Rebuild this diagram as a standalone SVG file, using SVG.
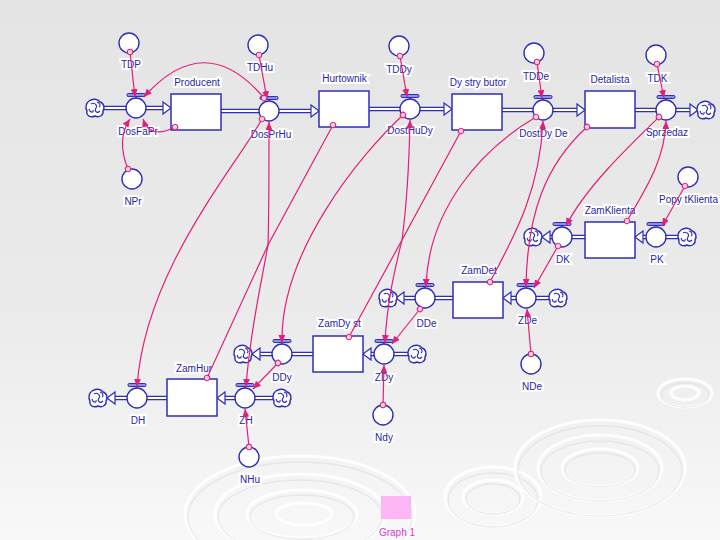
<svg xmlns="http://www.w3.org/2000/svg" xmlns:xlink="http://www.w3.org/1999/xlink" width="720" height="540" viewBox="0 0 720 540">
<style>
.pipe{fill:none;stroke:#2e2eb8;stroke-width:4.6}
.pipein{fill:none;stroke:#ffffff;stroke-width:1.8}
.parr{fill:#ffffff;stroke:#2e2eb8;stroke-width:1.2;stroke-linejoin:miter}
.stock{fill:#ffffff;stroke:#2e2eb8;stroke-width:1.5}
.aux{fill:#ffffff;stroke:#2e2eb8;stroke-width:1.4}
.lbl{font-family:"Liberation Sans",Arial,sans-serif;font-size:10px;fill:#2626a8;text-anchor:middle;stroke:#ffffff;stroke-width:4;stroke-linejoin:miter;paint-order:stroke}
.link{fill:none;stroke:#e0207a;stroke-width:1.2;marker-start:url(#dot);marker-end:url(#arr)}
.rw{fill:none;stroke:#ffffff;stroke-width:3;opacity:0.85}
.rg{fill:none;stroke:#d8d8d8;stroke-width:1.3;opacity:0.45}
</style>
<defs>
<linearGradient id="bg" x1="0" y1="0" x2="0" y2="1">
<stop offset="0" stop-color="#e4e4e4"/>
<stop offset="0.6" stop-color="#ebebeb"/>
<stop offset="1" stop-color="#f8f8f8"/>
</linearGradient>
<marker id="arr" markerUnits="userSpaceOnUse" markerWidth="9" markerHeight="7" refX="8" refY="3.5" orient="auto"><path d="M0,0 L8,3.5 L0,7 Z" fill="#e0207a"/></marker>
<marker id="dot" markerUnits="userSpaceOnUse" markerWidth="8" markerHeight="8" refX="4" refY="4" orient="auto"><circle cx="4" cy="4" r="2.7" fill="#f4d2e2" stroke="#e0207a" stroke-width="1"/></marker>
<g id="cloud">
<path d="M-6,-7 C-2,-10 3,-9 5,-6 C9,-5 10,0 8,3 C9,7 4,10 0,8 C-4,10 -9,8 -8,3 C-10,0 -9,-5 -6,-7 Z" fill="#ffffff" stroke="#2e2eb8" stroke-width="1.4"/>
<path d="M-4,-4 C-1,-6 3,-3 1,0 C-1,3 2,6 5,3 M-6,1 C-5,5 -1,5 -2,2 M2,-6 C5,-5 6,-2 4,-1" fill="none" stroke="#2e2eb8" stroke-width="1.1"/>
</g>
<g id="valve">
<rect x="-9" y="-14.5" width="18" height="3" rx="1.2" fill="#8f8fe0" stroke="#2e2eb8" stroke-width="1"/>
<line x1="0" y1="-11.5" x2="0" y2="-10" stroke="#2e2eb8" stroke-width="1.4"/>
<circle cx="0" cy="0" r="10" fill="#ffffff" stroke="#2e2eb8" stroke-width="1.4"/>
</g>
</defs>

<rect x="0" y="0" width="720" height="540" fill="url(#bg)"/>
<g id="ripples">
<ellipse class="rw" cx="300" cy="514" rx="115" ry="58"/><ellipse class="rg" cx="300" cy="517" rx="112" ry="55"/>
<ellipse class="rw" cx="300" cy="514" rx="85" ry="40"/><ellipse class="rg" cx="300" cy="517" rx="82" ry="37"/>
<ellipse class="rw" cx="302" cy="514" rx="55" ry="24"/><ellipse class="rg" cx="302" cy="517" rx="52" ry="22"/>
<ellipse class="rw" cx="304" cy="514" rx="28" ry="11"/>
<ellipse class="rw" cx="493" cy="497" rx="48" ry="30"/><ellipse class="rg" cx="493" cy="500" rx="45" ry="27"/>
<ellipse class="rw" cx="493" cy="497" rx="30" ry="17"/><ellipse class="rg" cx="493" cy="499" rx="27" ry="15"/>
<ellipse class="rw" cx="600" cy="468" rx="85" ry="48"/><ellipse class="rg" cx="600" cy="471" rx="82" ry="45"/>
<ellipse class="rw" cx="600" cy="468" rx="62" ry="33"/><ellipse class="rg" cx="600" cy="471" rx="59" ry="30"/>
<ellipse class="rw" cx="600" cy="468" rx="38" ry="19"/><ellipse class="rg" cx="600" cy="470" rx="35" ry="17"/>
<ellipse class="rw" cx="685" cy="393" rx="27" ry="14"/><ellipse class="rg" cx="685" cy="395" rx="24" ry="12"/>
<ellipse class="rw" cx="685" cy="393" rx="14" ry="7"/>
</g>

<!-- top chain flows -->
<g id="DosFaPr">
<path class="pipe" d="M103,108 H164"/><path class="pipein" d="M103,108 H164"/>
<path class="parr" d="M163,102 L171,108 L163,114 Z"/>
<use xlink:href="#cloud" href="#cloud" x="95" y="108"/>
<use xlink:href="#valve" href="#valve" x="136" y="108"/>
<text class="lbl" x="138" y="134.5">DosFaPr</text>
</g>
<g id="DosPrHu">
<path class="pipe" d="M221,111 H312"/><path class="pipein" d="M221,111 H312"/>
<path class="parr" d="M311,105 L319,111 L311,117 Z"/>
<use xlink:href="#valve" href="#valve" x="269" y="111"/>
<text class="lbl" x="271" y="137.5">DosPrHu</text>
</g>
<g id="DostHuDy">
<path class="pipe" d="M369,109 H445"/><path class="pipein" d="M369,109 H445"/>
<path class="parr" d="M444,103 L452,109 L444,115 Z"/>
<use xlink:href="#valve" href="#valve" x="410" y="109"/>
<text class="lbl" x="410" y="133.5">DostHuDy</text>
</g>
<g id="DostDyDe">
<path class="pipe" d="M502,110 H578"/><path class="pipein" d="M502,110 H578"/>
<path class="parr" d="M577,104 L585,110 L577,116 Z"/>
<use xlink:href="#valve" href="#valve" x="543" y="110"/>
<text class="lbl" x="543.5" y="136.5">DostDy De</text>
</g>
<g id="Sprzedaz">
<path class="pipe" d="M635,110 H691"/><path class="pipein" d="M635,110 H691"/>
<path class="parr" d="M690,104 L698,110 L690,116 Z"/>
<use xlink:href="#cloud" href="#cloud" x="706" y="110"/>
<use xlink:href="#valve" href="#valve" x="666" y="110"/>
<text class="lbl" x="667" y="135.5">Sprzedaz</text>
</g>

<!-- order chain flows -->
<g id="PK">
<path class="pipe" d="M679,237 H642"/><path class="pipein" d="M679,237 H642"/>
<path class="parr" d="M643,231 L635,237 L643,243 Z"/>
<use xlink:href="#cloud" href="#cloud" x="687" y="237"/>
<use xlink:href="#valve" href="#valve" x="656" y="237"/>
<text class="lbl" x="657" y="262.5">PK</text>
</g>
<g id="DK">
<path class="pipe" d="M585,237 H549"/><path class="pipein" d="M585,237 H549"/>
<path class="parr" d="M550,231 L542,237 L550,243 Z"/>
<use xlink:href="#cloud" href="#cloud" x="533" y="237"/>
<use xlink:href="#valve" href="#valve" x="562" y="237"/>
<text class="lbl" x="563" y="262.5">DK</text>
</g>
<g id="ZDe">
<path class="pipe" d="M550,298 H510"/><path class="pipein" d="M550,298 H510"/>
<path class="parr" d="M511,292 L503,298 L511,304 Z"/>
<use xlink:href="#cloud" href="#cloud" x="558" y="298"/>
<use xlink:href="#valve" href="#valve" x="526" y="298"/>
<text class="lbl" x="527.5" y="323.5">ZDe</text>
</g>
<g id="DDe">
<path class="pipe" d="M453,298 H403"/><path class="pipein" d="M453,298 H403"/>
<path class="parr" d="M404,292 L396,298 L404,304 Z"/>
<use xlink:href="#cloud" href="#cloud" x="388" y="298"/>
<use xlink:href="#valve" href="#valve" x="425" y="298"/>
<text class="lbl" x="426.5" y="326.5">DDe</text>
</g>
<g id="ZDy">
<path class="pipe" d="M409,354 H370"/><path class="pipein" d="M409,354 H370"/>
<path class="parr" d="M371,348 L363,354 L371,360 Z"/>
<use xlink:href="#cloud" href="#cloud" x="417" y="354"/>
<use xlink:href="#valve" href="#valve" x="384" y="354"/>
<text class="lbl" x="384" y="380.5">ZDy</text>
</g>
<g id="DDy">
<path class="pipe" d="M313,354 H259"/><path class="pipein" d="M313,354 H259"/>
<path class="parr" d="M260,348 L252,354 L260,360 Z"/>
<use xlink:href="#cloud" href="#cloud" x="243" y="354"/>
<use xlink:href="#valve" href="#valve" x="282" y="354"/>
<text class="lbl" x="282" y="380.5">DDy</text>
</g>
<g id="ZH">
<path class="pipe" d="M274,398 H224"/><path class="pipein" d="M274,398 H224"/>
<path class="parr" d="M225,392 L217,398 L225,404 Z"/>
<use xlink:href="#cloud" href="#cloud" x="282" y="398"/>
<use xlink:href="#valve" href="#valve" x="245" y="398"/>
<text class="lbl" x="246" y="423.5">ZH</text>
</g>
<g id="DH">
<path class="pipe" d="M167,398 H114"/><path class="pipein" d="M167,398 H114"/>
<path class="parr" d="M115,392 L107,398 L115,404 Z"/>
<use xlink:href="#cloud" href="#cloud" x="98" y="398"/>
<use xlink:href="#valve" href="#valve" x="137" y="398"/>
<text class="lbl" x="138" y="424">DH</text>
</g>

<!-- stocks -->
<g id="Producent"><rect class="stock" x="171" y="94" width="50" height="36"/><text class="lbl" x="197" y="85.5">Producent</text></g>
<g id="Hurtownik"><rect class="stock" x="319" y="91" width="50" height="36"/><text class="lbl" x="344.5" y="81.5">Hurtownik</text></g>
<g id="Dystrybutor"><rect class="stock" x="452" y="94" width="50" height="36"/><text class="lbl" x="478" y="85.5">Dy stry butor</text></g>
<g id="Detalista"><rect class="stock" x="585" y="91" width="50" height="37"/><text class="lbl" x="610" y="82.5">Detalista</text></g>
<g id="ZamKlienta"><rect class="stock" x="585" y="222" width="50" height="36"/><text class="lbl" x="610" y="213.5">ZamKlienta</text></g>
<g id="ZamDet"><rect class="stock" x="453" y="282" width="50" height="36"/><text class="lbl" x="479" y="273.5">ZamDet</text></g>
<g id="ZamDyst"><rect class="stock" x="313" y="336" width="50" height="36"/><text class="lbl" x="339.5" y="327">ZamDy st</text></g>
<g id="ZamHur"><rect class="stock" x="167" y="379" width="50" height="37"/><text class="lbl" x="194" y="372">ZamHur</text></g>

<!-- converters -->
<g id="TDP"><circle class="aux" cx="129" cy="43" r="10"/><text class="lbl" x="131" y="67.5">TDP</text></g>
<g id="TDHu"><circle class="aux" cx="258" cy="45" r="10"/><text class="lbl" x="260" y="70.5">TDHu</text></g>
<g id="TDDy"><circle class="aux" cx="399" cy="46" r="10"/><text class="lbl" x="399" y="72.5">TDDy</text></g>
<g id="TDDe"><circle class="aux" cx="534" cy="53" r="10"/><text class="lbl" x="536" y="79.5">TDDe</text></g>
<g id="TDK"><circle class="aux" cx="656" cy="55" r="10"/><text class="lbl" x="657.5" y="81.5">TDK</text></g>
<g id="NPr"><circle class="aux" cx="132" cy="179" r="10"/><text class="lbl" x="133" y="204.5">NPr</text></g>
<g id="PopytKlienta"><circle class="aux" cx="688" cy="177" r="10"/><text class="lbl" x="688.5" y="202.5">Popy tKlienta</text></g>
<g id="NDe"><circle class="aux" cx="531" cy="364" r="10"/><text class="lbl" x="532" y="389.5">NDe</text></g>
<g id="Ndy"><circle class="aux" cx="383" cy="415" r="10"/><text class="lbl" x="384" y="440.5">Ndy</text></g>
<g id="NHu"><circle class="aux" cx="249" cy="457" r="10"/><text class="lbl" x="250" y="482.5">NHu</text></g>

<g id="Graph1">
<rect x="381" y="496" width="30" height="23" fill="#fbb6f3"/>
<text x="397" y="536" font-family="Liberation Sans, Arial, sans-serif" font-size="10" fill="#d53fcf" text-anchor="middle">Graph 1</text>
</g>

<g id="connectors">
<path class="link" d="M130,52 L135,97"/>
<path class="link" d="M259,55 L267,99"/>
<path class="link" d="M400,56 L407,97"/>
<path class="link" d="M537,62 L542,98"/>
<path class="link" d="M657,64 L664,98"/>
<path class="link" d="M685,186 L662,226"/>
<path class="link" d="M128,169 Q116,140 130,119"/>
<path class="link" d="M175,127 Q150,140 143,119"/>
<path class="link" d="M264,98 Q205,28 144,97"/>
<path class="link" d="M262,119 C235,168 145,270 137,387"/>
<path class="link" d="M207,378 L268,245 C269,215 269,170 269,122"/>
<path class="link" d="M333,125 L268,245 C262,280 250,330 246,387"/>
<path class="link" d="M403,115 C360,155 280,252 282,343"/>
<path class="link" d="M349,337 L402,240 C406,210 409,170 410,120"/>
<path class="link" d="M461,131 L402,240 C396,265 387,300 385,343"/>
<path class="link" d="M536,117 C480,150 428,210 426,287"/>
<path class="link" d="M490,282 C515,235 540,190 543,121"/>
<path class="link" d="M587,127 C545,165 527,215 526,287"/>
<path class="link" d="M659,117 C630,145 585,188 566,226"/>
<path class="link" d="M627,221 C645,190 665,160 666,121"/>
<path class="link" d="M558,246 L534,288"/>
<path class="link" d="M420,309 L392,344"/>
<path class="link" d="M278,363 L253,389"/>
<path class="link" d="M531,354 L527,309"/>
<path class="link" d="M383,405 L384,365"/>
<path class="link" d="M249,447 L245,409"/>
</g>
</svg>
